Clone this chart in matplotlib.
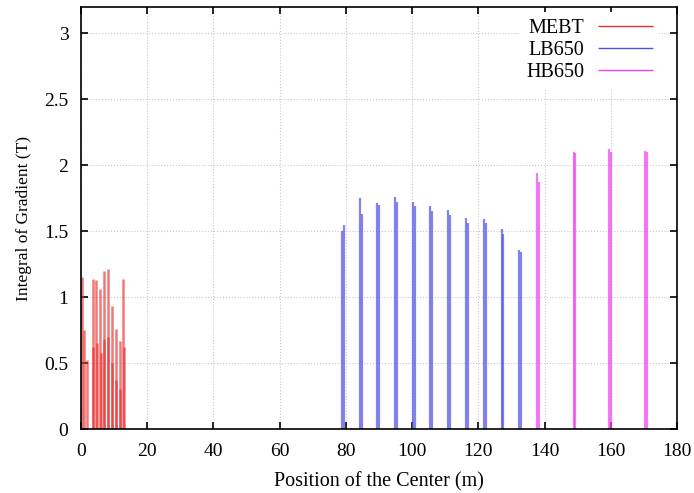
import numpy as np
import matplotlib
matplotlib.use("Agg")
import matplotlib.pyplot as plt

# position (m) and gradient integral (T) of each quad
mebt_pos = [0.3, 0.9, 1.7, 3.5, 3.7, 4.6, 4.8, 5.7, 5.9, 6.9, 7.1, 8.1, 8.3, 9.3, 9.5, 10.5, 10.7, 11.7, 11.9, 12.8, 13.0]
mebt_val = [1.15, 0.75, 0.52, 1.14, 0.62, 1.13, 0.65, 1.06, 0.58, 1.20, 0.68, 1.21, 0.70, 0.93, 0.50, 0.76, 0.37, 0.67, 0.30, 1.14, 0.62]

lb_pos = [78.9, 79.4, 84.4, 84.8, 89.5, 89.9, 94.9, 95.3, 100.4, 100.8, 105.5, 105.9,
          110.9, 111.3, 116.4, 116.8, 121.8, 122.2, 127.0, 127.4, 132.4, 132.8]
lb_val = [1.50, 1.55, 1.75, 1.63, 1.71, 1.70, 1.76, 1.72, 1.72, 1.69, 1.69, 1.65,
          1.66, 1.62, 1.60, 1.56, 1.59, 1.56, 1.52, 1.48, 1.36, 1.34]

hb_pos = [137.8, 138.2, 148.8, 149.2, 159.6, 160.0, 170.4, 170.8]
hb_val = [1.94, 1.87, 2.10, 2.09, 2.12, 2.10, 2.11, 2.10]

plt.rcParams['font.family'] = ['Liberation Serif', 'DejaVu Serif']

fig = plt.figure(figsize=(6.94, 4.93), dpi=100)
ax = fig.add_axes([0.1167, 0.1298, 0.8588, 0.856])

ax.vlines(mebt_pos, 0, mebt_val, color='#e83030', lw=1.8, alpha=0.65, label='MEBT')
ax.vlines(lb_pos, 0, lb_val, color='#5050e0', lw=1.6, alpha=0.7, label='LB650')
ax.vlines(hb_pos, 0, hb_val, color='#f040f0', lw=1.6, alpha=0.7, label='HB650')

ax.set_xlim(0, 180)
ax.set_ylim(0, 3.2)
ax.set_xticks(np.arange(0, 181, 20))
ax.set_yticks([0, 0.5, 1, 1.5, 2, 2.5, 3])
ax.set_yticklabels(['0', '0.5', '1', '1.5', '2', '2.5', '3'])
ax.grid(True, color='#c8c8c8', ls=':', lw=0.8)
ax.set_axisbelow(True)
ax.tick_params(direction='in', top=True, right=True, labelsize=14, length=5, width=1.2)
ax.tick_params(axis='x', pad=10)
ax.tick_params(axis='y', pad=9)
for s in ax.spines.values():
    s.set_linewidth(1.2)

ax.set_xlabel('Position of the Center (m)', fontsize=14.5, labelpad=9)
ax.set_ylabel('Integral of Gradient (T)', fontsize=12.5, labelpad=9)

leg = ax.legend(loc='upper right', bbox_to_anchor=(1.0, 1.03), markerfirst=False,
                fontsize=14.5, frameon=True,
                handlelength=2.7, handletextpad=0.7, labelspacing=0.15,
                borderpad=0.3, borderaxespad=0.9)
leg.get_frame().set_edgecolor('none')
leg.get_frame().set_facecolor('white')
leg.get_frame().set_alpha(1)
for h in leg.legend_handles:
    h.set_alpha(1)
    h.set_linewidth(1)

fig.savefig('out.png', dpi=100)
